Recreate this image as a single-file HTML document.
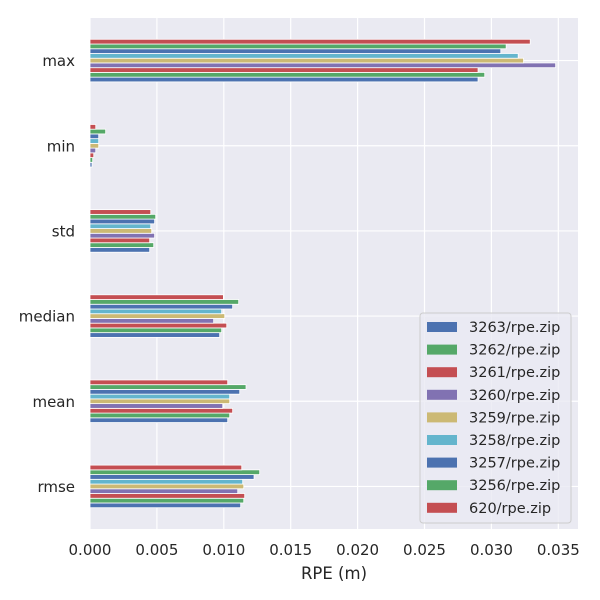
<!DOCTYPE html>
<html><head><meta charset="utf-8"><style>
body{margin:0;background:#fff;}
svg{display:block;font-family:"DejaVu Sans","Liberation Sans",sans-serif;}
</style></head><body>
<svg id="chart" width="600" height="600" viewBox="0 0 600 600"></svg>
<script>
const categories = ["rmse","mean","median","std","min","max"];
const seriesNames = ["3263/rpe.zip","3262/rpe.zip","3261/rpe.zip","3260/rpe.zip","3259/rpe.zip","3258/rpe.zip","3257/rpe.zip","3256/rpe.zip","620/rpe.zip"];
// values per series, in category order rmse, mean, median, std, min, max
const s3263 = [0.01126,0.01029,0.00969,0.00446,0.00015,0.0290];
const s3262 = [0.01149,0.01044,0.00984,0.00476,0.00020,0.0295];
const s3261 = [0.01156,0.01066,0.01022,0.00446,0.00028,0.0290];
const s3260 = [0.01104,0.00992,0.00924,0.00483,0.00043,0.0348];
const s3259 = [0.01149,0.01044,0.01007,0.00461,0.00065,0.0324];
const s3258 = [0.01141,0.01044,0.00984,0.00454,0.00065,0.0320];
const s3257 = [0.01226,0.01119,0.01066,0.00483,0.00065,0.0307];
const s3256 = [0.01268,0.01166,0.01111,0.00491,0.00117,0.0311];
const s620  = [0.01134,0.01029,0.00997,0.00454,0.00043,0.0329];
const xTicks = [0,0.005,0.01,0.015,0.02,0.025,0.03,0.035];
const xTickLabels = ["0.000","0.005","0.010","0.015","0.020","0.025","0.030","0.035"];

const series = [s3263,s3262,s3261,s3260,s3259,s3258,s3257,s3256,s620];
const colors = ["#4c72b0","#55a868","#c44e52","#8172b2","#ccb974","#64b5cd","#4c72b0","#55a868","#c44e52"];
const L=90,R=578,T=18,B=529, xmax=0.03647;
const xs = v => L + v/xmax*(R-L);
const ys = i => B - (i+0.5)*(B-T)/categories.length;
const band = (B-T)/categories.length;
const NS="http://www.w3.org/2000/svg";
const svg=document.getElementById('chart');
function mk(tag,attrs,parent){const e=document.createElementNS(NS,tag);for(const k in attrs)e.setAttribute(k,attrs[k]);(parent||svg).appendChild(e);return e;}

const bg=mk('rect',{x:L,y:T,width:R-L,height:B-T,fill:'#eaeaf2'});



xTicks.forEach((t,i)=>{
  const g=mk('line',{x1:xs(t),x2:xs(t),y1:T,y2:B,stroke:'#fff','stroke-width':1.2});
  
  
  const tx=mk('text',{x:xs(t),y:555,'text-anchor':'middle','font-size':15,fill:'#262626'});
  tx.textContent=xTickLabels[i];
  
  
});
categories.forEach((c,i)=>{
  const g=mk('line',{x1:L,x2:R,y1:ys(i),y2:ys(i),stroke:'#fff','stroke-width':1.2});
  
  
  const tx=mk('text',{x:L-15,y:ys(i)+5.5,'text-anchor':'end','font-size':15,fill:'#262626'});
  tx.textContent=c;
  
  
});

const bh = band*0.5/series.length;
series.forEach((vals,si)=>{
  vals.forEach((v,ci)=>{
    const yc = ys(ci) + band*0.25 - (si+0.5)*bh;
    const r=mk('rect',{x:xs(0),y:yc-bh/2,width:xs(v)-xs(0),height:bh,fill:colors[si],stroke:'#fff','stroke-width':0.8});
    
    
  });
});

const xl=mk('text',{x:(L+R)/2,y:579,'text-anchor':'middle','font-size':16.5,fill:'#262626'});
xl.textContent='RPE (m)';



const lg=mk('g',{});


mk('rect',{x:420,y:313,width:151,height:210,rx:3,fill:'#eaeaf2','fill-opacity':0.8,stroke:'#cccccc'},lg);
seriesNames.forEach((n,i)=>{
  const y=327+i*22.6;
  const e=mk('g',{},lg);
  
  
  mk('rect',{x:427,y:y-5,width:30,height:10,fill:colors[i]},e);
  const t=mk('text',{x:469,y:y+5,'font-size':14.5,fill:'#262626'},e);
  t.textContent=n;
});
</script>
</body></html>
